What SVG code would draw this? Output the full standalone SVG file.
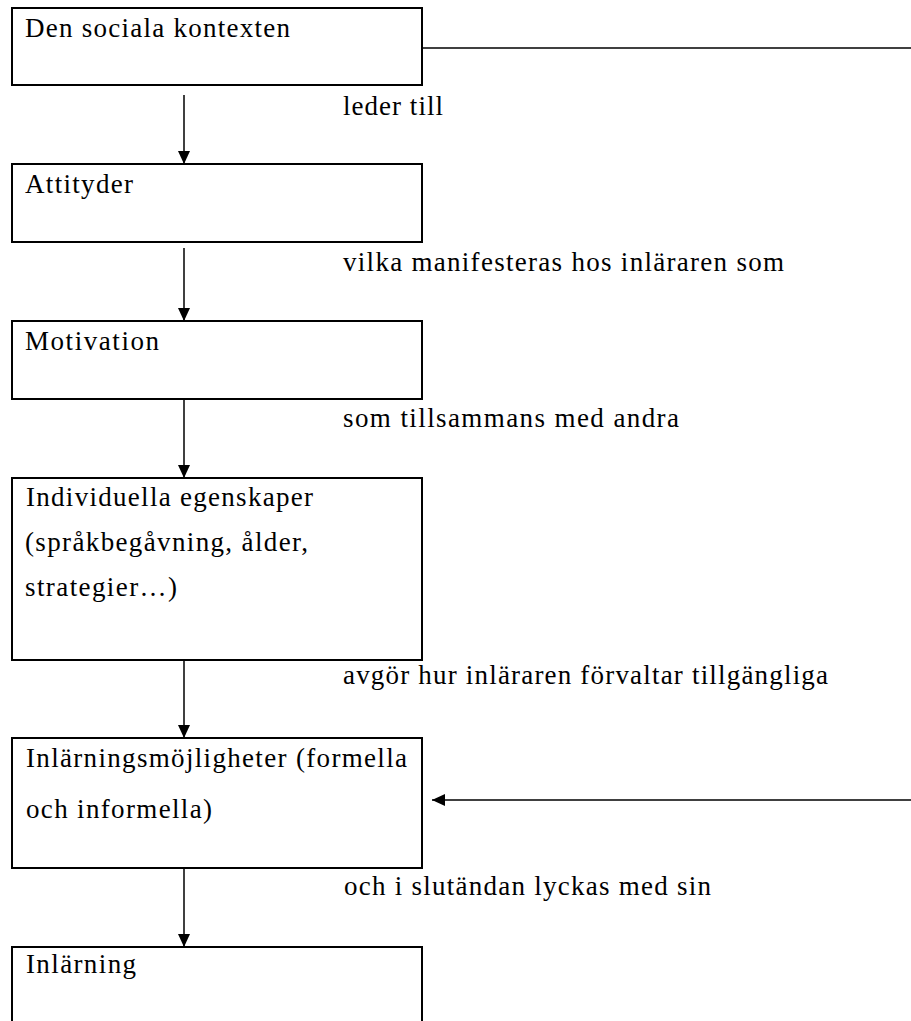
<svg xmlns="http://www.w3.org/2000/svg" width="911" height="1021" viewBox="0 0 911 1021">
<style>
.box{fill:#fff;stroke:#000;stroke-width:2}
.c{stroke:#000;stroke-width:1.5;fill:none}
</style>
<defs>
<marker id="ah" markerUnits="userSpaceOnUse" viewBox="0 0 13 12" refX="13" refY="6" markerWidth="13" markerHeight="12" orient="auto">
<path d="M0,0 L13,6 L0,12 z" fill="#000"/>
</marker>
</defs>
<rect width="911" height="1021" fill="#fff"/>
<g id="connectors">
<line class="c" x1="184" y1="95" x2="184" y2="164" marker-end="url(#ah)"/>
<line class="c" x1="184" y1="248" x2="184" y2="321" marker-end="url(#ah)"/>
<line class="c" x1="184" y1="399" x2="184" y2="478" marker-end="url(#ah)"/>
<line class="c" x1="184" y1="655" x2="184" y2="738" marker-end="url(#ah)"/>
<line class="c" x1="184" y1="868" x2="184" y2="947" marker-end="url(#ah)"/>
<line class="c" x1="420" y1="48" x2="911" y2="48"/>
<line class="c" x1="911" y1="800" x2="432" y2="800" marker-end="url(#ah)"/>
</g>
<g font-family="Liberation Serif, Times New Roman, serif" font-size="27" fill="#000">
<g id="labels">
<text x="343" y="115" textLength="100" lengthAdjust="spacing">leder till</text>
<text x="343" y="271" textLength="441" lengthAdjust="spacing">vilka manifesteras hos inläraren som</text>
<text x="343" y="427" textLength="336" lengthAdjust="spacing">som tillsammans med andra</text>
<text x="343" y="684" textLength="485" lengthAdjust="spacing">avgör hur inläraren förvaltar tillgängliga</text>
<text x="344" y="895" textLength="367" lengthAdjust="spacing">och i slutändan lyckas med sin</text>
</g>
<g id="node-social">
<rect class="box" x="12" y="8" width="410" height="77"/>
<text x="25" y="37" textLength="265" lengthAdjust="spacing">Den sociala kontexten</text>
</g>
<g id="node-attityder">
<rect class="box" x="12" y="164" width="410" height="78"/>
<text x="25" y="193" textLength="108" lengthAdjust="spacing">Attityder</text>
</g>
<g id="node-motivation">
<rect class="box" x="12" y="321" width="410" height="78"/>
<text x="25" y="350" textLength="134" lengthAdjust="spacing">Motivation</text>
</g>
<g id="node-individuella">
<rect class="box" x="12" y="478" width="410" height="182"/>
<text x="26" y="506" textLength="287" lengthAdjust="spacing">Individuella egenskaper</text>
<text x="25" y="551" textLength="283" lengthAdjust="spacing">(språkbegåvning, ålder,</text>
<text x="25" y="596" textLength="152" lengthAdjust="spacing">strategier…)</text>
</g>
<g id="node-mojligheter">
<rect class="box" x="12" y="738" width="410" height="130"/>
<text x="26" y="767" textLength="381" lengthAdjust="spacing">Inlärningsmöjligheter (formella</text>
<text x="26" y="818" textLength="186" lengthAdjust="spacing">och informella)</text>
</g>
<g id="node-inlarning">
<rect class="box" x="12" y="947" width="410" height="90"/>
<text x="26" y="973" textLength="110" lengthAdjust="spacing">Inlärning</text>
</g>
</g>
</svg>
